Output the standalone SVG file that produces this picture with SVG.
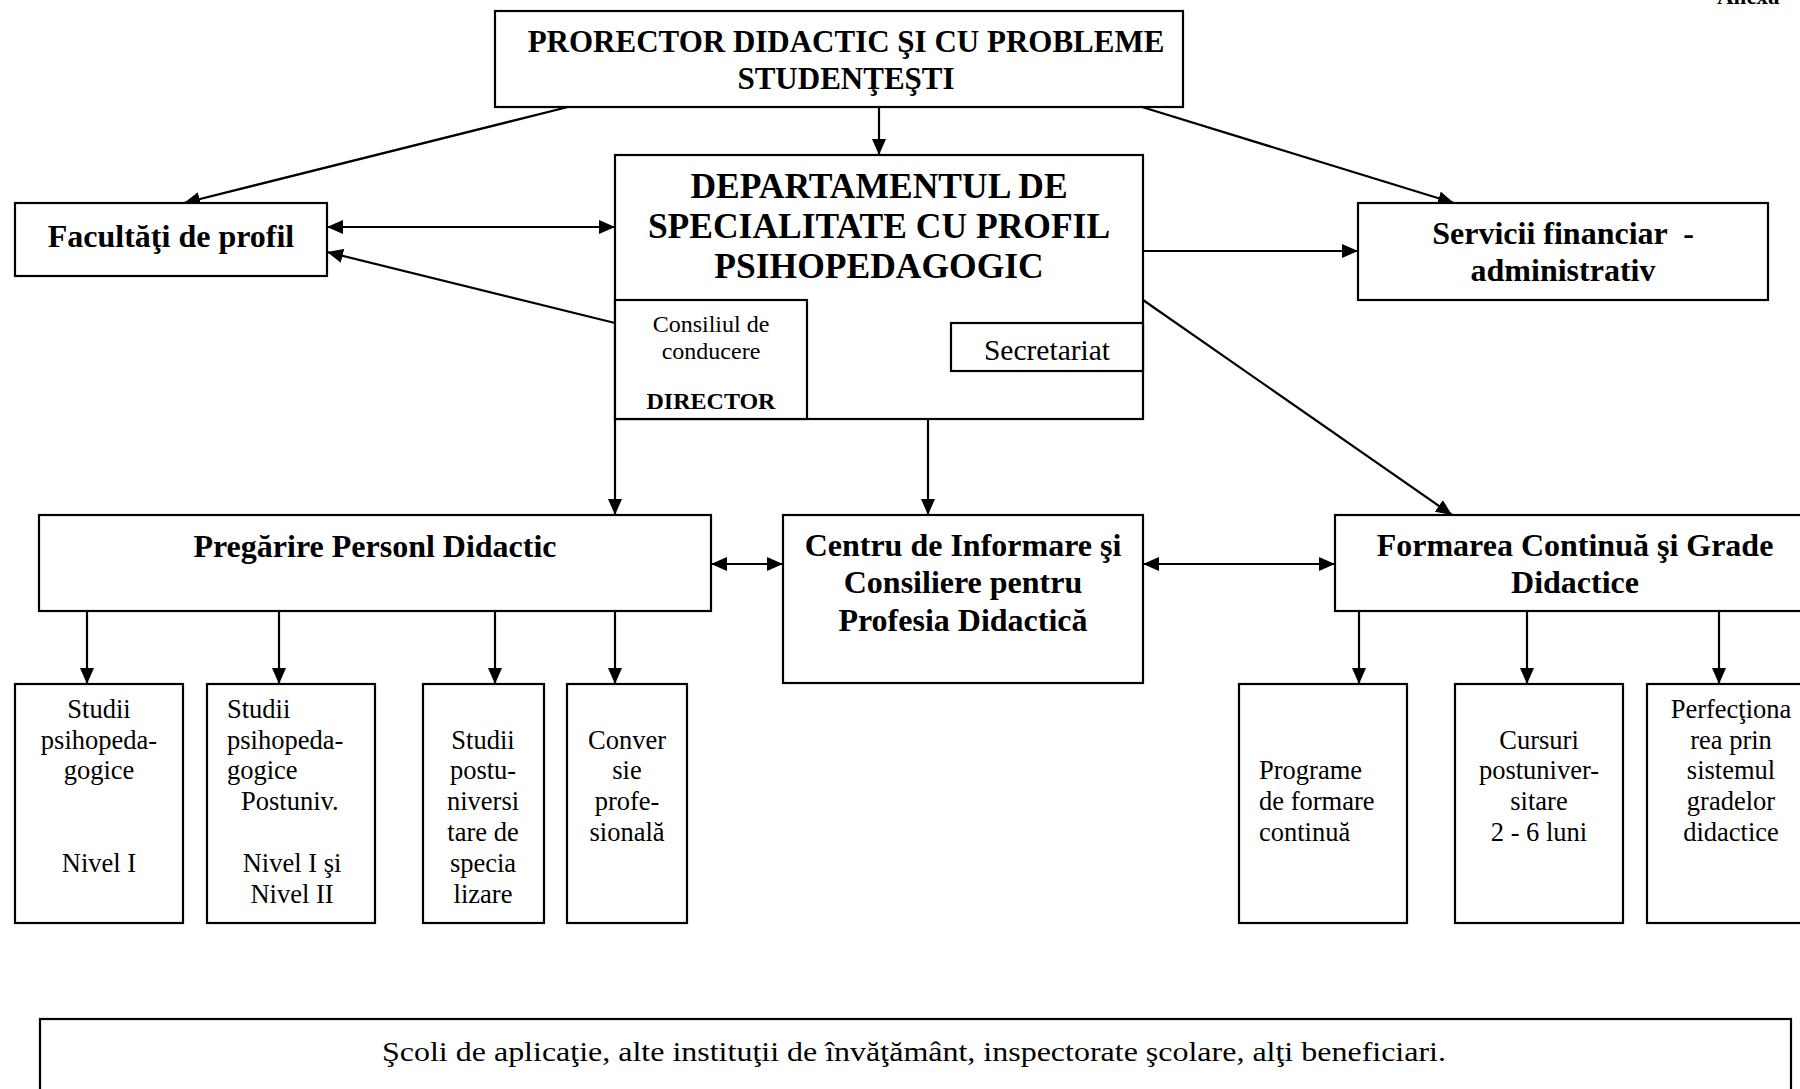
<svg xmlns="http://www.w3.org/2000/svg" width="1800" height="1089" viewBox="0 0 1800 1089">
<style>
.box{fill:#fff;stroke:#000;stroke-width:2.2}
.ln{fill:none;stroke:#000;stroke-width:2.2}
.tb{font-family:"Liberation Serif","Times New Roman",serif;font-weight:bold;fill:#000;text-anchor:middle;font-size:32px}
.tr{font-family:"Liberation Serif","Times New Roman",serif;fill:#000;text-anchor:middle;font-size:26.5px}
.tl{font-family:"Liberation Serif","Times New Roman",serif;fill:#000;font-size:26.5px}
</style>
<defs>
<marker id="ah" markerUnits="userSpaceOnUse" markerWidth="17" markerHeight="14" refX="16" refY="7" orient="auto">
<path d="M0,0 L16,7 L0,14 Z" fill="#000"/>
</marker>
<marker id="as" markerUnits="userSpaceOnUse" markerWidth="17" markerHeight="14" refX="1" refY="7" orient="auto">
<path d="M17,0 L1,7 L17,14 Z" fill="#000"/>
</marker>
</defs>
<rect width="1800" height="1089" fill="#fff"/>
<text x="1717" y="4" style="font-family:'Liberation Serif',serif;font-weight:bold;font-size:23px">Anexa</text>

<g id="connectors">
<line class="ln" x1="879" y1="107" x2="879" y2="155" marker-end="url(#ah)"/>
<line class="ln" x1="568" y1="107" x2="184" y2="203" marker-end="url(#ah)"/>
<line class="ln" x1="1142" y1="107" x2="1454" y2="203" marker-end="url(#ah)"/>
<line class="ln" x1="327" y1="227" x2="615" y2="227" marker-start="url(#as)" marker-end="url(#ah)"/>
<line class="ln" x1="615" y1="323" x2="327" y2="252" marker-end="url(#ah)"/>
<line class="ln" x1="1143" y1="251" x2="1358" y2="251" marker-end="url(#ah)"/>
<line class="ln" x1="807" y1="347" x2="951" y2="347" marker-end="url(#ah)"/>
<line class="ln" x1="1143" y1="300" x2="1452" y2="515" marker-end="url(#ah)"/>
<line class="ln" x1="615" y1="419" x2="615" y2="515" marker-end="url(#ah)"/>
<line class="ln" x1="928" y1="419" x2="928" y2="515" marker-end="url(#ah)"/>
<line class="ln" x1="711" y1="564" x2="783" y2="564" marker-start="url(#as)" marker-end="url(#ah)"/>
<line class="ln" x1="1143" y1="564" x2="1335" y2="564" marker-start="url(#as)" marker-end="url(#ah)"/>
<line class="ln" x1="87" y1="611" x2="87" y2="684" marker-end="url(#ah)"/>
<line class="ln" x1="279" y1="611" x2="279" y2="684" marker-end="url(#ah)"/>
<line class="ln" x1="495" y1="611" x2="495" y2="684" marker-end="url(#ah)"/>
<line class="ln" x1="615" y1="611" x2="615" y2="684" marker-end="url(#ah)"/>
<line class="ln" x1="1359" y1="611" x2="1359" y2="684" marker-end="url(#ah)"/>
<line class="ln" x1="1527" y1="611" x2="1527" y2="684" marker-end="url(#ah)"/>
<line class="ln" x1="1719" y1="611" x2="1719" y2="684" marker-end="url(#ah)"/>
</g>

<g id="prorector">
<rect class="box" x="495" y="11" width="688" height="96"/>
<text class="tb" x="846" y="52" style="font-size:31px">PRORECTOR DIDACTIC ŞI CU PROBLEME</text>
<text class="tb" x="846" y="89" style="font-size:31px">STUDENŢEŞTI</text>
</g>

<g id="facultati">
<rect class="box" x="15" y="203" width="312" height="73"/>
<text class="tb" x="171" y="247">Facultăţi de profil</text>
</g>

<g id="departament">
<rect class="box" x="615" y="155" width="528" height="264"/>
<text class="tb" x="879" y="198" style="font-size:35.5px">DEPARTAMENTUL DE</text>
<text class="tb" x="879" y="238" style="font-size:35.5px">SPECIALITATE CU PROFIL</text>
<text class="tb" x="879" y="278" style="font-size:35.5px">PSIHOPEDAGOGIC</text>
</g>

<g id="consiliul">
<rect class="box" x="615" y="300" width="192" height="119"/>
<text class="tr" x="711" y="332" style="font-size:24px">Consiliul de</text>
<text class="tr" x="711" y="359" style="font-size:24px">conducere</text>
<text class="tb" x="711" y="409" style="font-size:24px">DIRECTOR</text>
</g>

<g id="secretariat">
<rect class="box" x="951" y="323" width="192" height="48"/>
<text class="tr" x="1047" y="360" style="font-size:29.5px">Secretariat</text>
</g>

<g id="servicii">
<rect class="box" x="1358" y="203" width="410" height="97"/>
<text class="tb" x="1563" y="244" xml:space="preserve">Servicii financiar  -</text>
<text class="tb" x="1563" y="281">administrativ</text>
</g>

<g id="pregatire">
<rect class="box" x="39" y="515" width="672" height="96"/>
<text class="tb" x="375" y="557">Pregărire Personl Didactic</text>
</g>

<g id="centru">
<rect class="box" x="783" y="515" width="360" height="168"/>
<text class="tb" x="963" y="556">Centru de Informare şi</text>
<text class="tb" x="963" y="593">Consiliere pentru</text>
<text class="tb" x="963" y="631">Profesia Didactică</text>
</g>

<g id="formarea">
<rect class="box" x="1335" y="515" width="480" height="96"/>
<text class="tb" x="1575" y="556">Formarea Continuă şi Grade</text>
<text class="tb" x="1575" y="593">Didactice</text>
</g>

<g id="studii1">
<rect class="box" x="15" y="684" width="168" height="239"/>
<text class="tr" x="99" y="718">Studii</text>
<text class="tr" x="99" y="749">psihopeda-</text>
<text class="tr" x="99" y="779">gogice</text>
<text class="tr" x="99" y="872">Nivel I</text>
</g>

<g id="studii2">
<rect class="box" x="207" y="684" width="168" height="239"/>
<text class="tl" x="227" y="718">Studii</text>
<text class="tl" x="227" y="749">psihopeda-</text>
<text class="tl" x="227" y="779">gogice</text>
<text class="tl" x="241" y="810">Postuniv.</text>
<text class="tr" x="292" y="872">Nivel I şi</text>
<text class="tr" x="292" y="903">Nivel II</text>
</g>

<g id="studii3">
<rect class="box" x="423" y="684" width="121" height="239"/>
<text class="tr" x="483" y="749">Studii</text>
<text class="tr" x="483" y="779">postu-</text>
<text class="tr" x="483" y="810">niversi</text>
<text class="tr" x="483" y="841">tare de</text>
<text class="tr" x="483" y="872">specia</text>
<text class="tr" x="483" y="903">lizare</text>
</g>

<g id="conversie">
<rect class="box" x="567" y="684" width="120" height="239"/>
<text class="tr" x="627" y="749">Conver</text>
<text class="tr" x="627" y="779">sie</text>
<text class="tr" x="627" y="810">profe-</text>
<text class="tr" x="627" y="841">sională</text>
</g>

<g id="programe">
<rect class="box" x="1239" y="684" width="168" height="239"/>
<text class="tl" x="1259" y="779">Programe</text>
<text class="tl" x="1259" y="810">de formare</text>
<text class="tl" x="1259" y="841">continuă</text>
</g>

<g id="cursuri">
<rect class="box" x="1455" y="684" width="168" height="239"/>
<text class="tr" x="1539" y="749">Cursuri</text>
<text class="tr" x="1539" y="779">postuniver-</text>
<text class="tr" x="1539" y="810">sitare</text>
<text class="tr" x="1539" y="841">2 - 6 luni</text>
</g>

<g id="perfectionare">
<rect class="box" x="1647" y="684" width="168" height="239"/>
<text class="tr" x="1731" y="718">Perfecţiona</text>
<text class="tr" x="1731" y="749">rea prin</text>
<text class="tr" x="1731" y="779">sistemul</text>
<text class="tr" x="1731" y="810">gradelor</text>
<text class="tr" x="1731" y="841">didactice</text>
</g>

<g id="scoli">
<rect class="box" x="40" y="1019" width="1751" height="90"/>
<text x="382" y="1061" textLength="1064" lengthAdjust="spacingAndGlyphs" style="font-family:'Liberation Serif',serif;font-size:28px">Şcoli de aplicaţie, alte instituţii de învăţământ, inspectorate şcolare, alţi beneficiari.</text>
</g>
</svg>
